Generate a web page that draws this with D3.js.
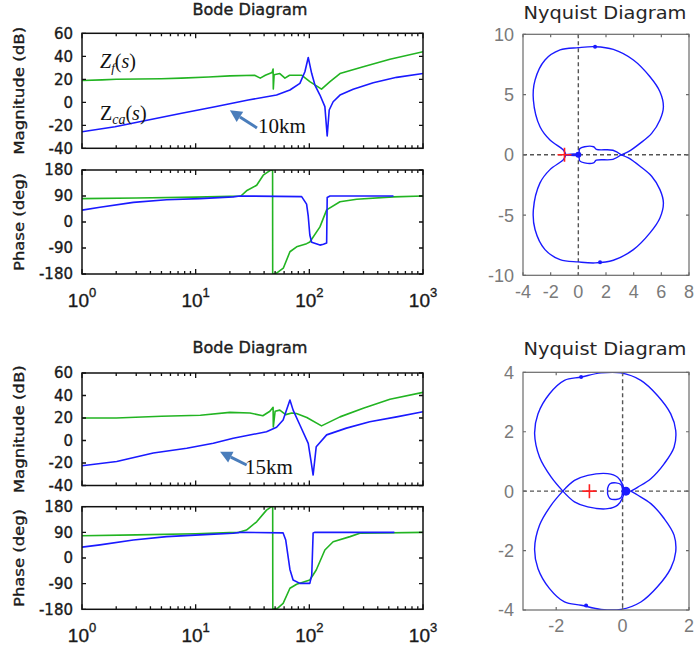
<!DOCTYPE html>
<html>
<head>
<meta charset="utf-8">
<script src="https://cdn.jsdelivr.net/npm/d3@7/dist/d3.min.js"></script>
<style>
  body { margin: 0; background: #fff; }
  svg text { font-family: "DejaVu Sans", Arial, sans-serif; }
  .heavy { stroke: #1a1a1a; stroke-width: 0.35px; }
</style>
</head>
<body>
<svg id="chart" width="699" height="645"></svg>
<script>
// ---- data: [frequency, value] ----
const FREQ_TICKS = [1, 10, 100, 1000];
const MAG_TICKS = [-40, -20, 0, 20, 40, 60];
const PHASE_TICKS = [-180, -90, 0, 90, 180];

// 10 km case
const zf10Mag = [[1,19],[1.5,19.5],[2,20],[5,20.5],[7.5,21],[13,22],[20,23],[33,23.5],[37,21],[41,23.5],[47,26],[48,29],[48.2,11.5],[49,24],[55,25],[61,21],[67,23.5],[86,23.5],[101,18],[128,11.5],[152,18],[186,25],[298,31],[512,37.4],[1000,44]];
const zca10Mag = [[1,-25.6],[1.95,-21.2],[3.83,-15.4],[7.53,-9.6],[14.8,-3.8],[29,2],[51.5,6.3],[67.5,10.7],[82.6,16.5],[91.4,26.6],[97.8,39],[104.8,25.2],[112,15],[124,6.3],[137,-3.8],[143.6,-29.3],[149.6,-6.7],[162,0.5],[186,6.3],[243,11.3],[365,17],[586,21.7],[1000,25]];
const zf10Phase = [[1,81],[3,83],[10,86],[20,89],[25,90],[28,108],[34.4,127],[39.3,162],[45,178],[47.5,180],[47.6,-180],[51.5,-177],[59,-160],[67.5,-103],[77.3,-86],[94.6,-75],[101,-69],[124,-17],[142,42],[186,70],[261,79],[547,87],[1000,90]];
const zca10Phase = [[1,41],[1.44,51],[2.83,68],[5.55,77],[10.9,81],[21.4,87],[24.5,90],[85.6,88],[94.6,62],[97.8,20],[101,-45],[104.8,-70],[124,-80],[133,-77],[142,-73],[143.6,85],[152,90],[550,90]];

// 15 km case
const zf15Mag = [[1,20],[2,20],[5,21.5],[11,22.5],[20,25],[30,24.5],[39,22],[45,26],[48,29.5],[48.2,12],[50,26],[55,27],[62,23],[70,24.5],[77,24],[95,20.5],[128,13],[186,21],[298,28.6],[512,36.6],[1000,42.8]];
const zca15Mag = [[1,-22.4],[2.02,-18.6],[4.24,-11.1],[8.35,-6.9],[14.3,-2.5],[21.4,2],[32.2,5.5],[42,7.8],[51.5,11.7],[58.8,18.2],[67.5,36],[72,27],[82.6,13.8],[97.8,-2.5],[103,-17],[108,-30.7],[115,-5.5],[142,5],[212,11],[340,16.7],[586,21],[1000,25.6]];
const zf15Phase = [[1,78],[3,81],[10,85],[20,89],[24,90],[28,98],[34.4,127],[42,168],[46.5,180],[47.6,180],[47.7,-180],[52.7,-176],[58.8,-159],[67.5,-106],[77.3,-92],[101,-77],[115,-42],[137,28],[162,57],[228,75],[278,87],[1000,90]];
const zca15Phase = [[1,38],[1.44,46],[2.83,63],[5.55,75],[10.9,81],[21.4,87],[24.5,90],[58.8,88],[62,63],[67.5,-40],[72,-77],[82.6,-89],[101,-89],[105,-60],[108,88],[112,90],[560,90]];

// Nyquist curves, upper half [Re, Im]; lower half is the conjugate
const NYQ10_X_TICKS = [-4, -2, 0, 2, 4, 6, 8];
const NYQ10_Y_TICKS = [-10, -5, 0, 5, 10];
const nyq10Lobe = [[-0.9,0],[-1.08,0.4],[-2.05,1.23],[-2.77,2.33],[-3.25,4.55],[-3.13,6.2],[-2.41,7.87],[-1.32,8.7],[0,8.89],[1.21,8.97],[2.53,8.75],[3.98,7.87],[5.18,6.48],[5.9,5.24],[6.15,3.99],[5.9,2.89],[5.3,1.78],[4.46,0.95],[3.62,0.26],[3.1,0]];
const nyq10Inner = [[-0.9,0],[0,0],[0.1,0.5],[0.45,0.67],[1.1,0.67],[1.3,0.45],[2.5,0.38],[3.1,0]];
const nyq10Arrows = [[1.21,8.97],[1.57,-8.92]];

const NYQ15_X_TICKS = [-2, 0, 2];
const NYQ15_Y_TICKS = [-4, -2, 0, 2, 4];
const nyq15Lobe = [[-1.8,0],[-2.15,0.47],[-2.5,1.14],[-2.65,1.93],[-2.55,2.6],[-2.2,3.28],[-1.75,3.73],[-1.25,3.84],[-0.65,3.98],[-0.05,3.98],[0.55,3.73],[1.05,3.22],[1.45,2.6],[1.6,2.04],[1.55,1.48],[1.25,0.92],[0.85,0.42],[0.45,0.13],[0.25,0]];
const nyq15Tear = [[-1.8,0],[-1.45,0.36],[-1.05,0.53],[-0.45,0.59],[-0.15,0.47],[0,0.22],[0.05,0]];
const nyq15Loop = [[0,0.05],[-0.05,0.22],[-0.2,0.28],[-0.38,0.25],[-0.45,0.1],[-0.45,0]];
const nyq15Arrows = [[-1.25,3.84],[-1.1,-3.85]];

const GREEN = '#22b422';
const BLUE = '#1a1aff';
const ARROW = '#4a7dbb';

const svg = d3.select('#chart');
let clipCount = 0;

function clipFor(x0, y0, w, h) {
    const id = 'clip' + (clipCount++);
    svg.append('clipPath').attr('id', id)
        .append('rect').attr('x', x0).attr('y', y0).attr('width', w).attr('height', h);
    return 'url(#' + id + ')';
}

function bodeAxes(x, y, yTicks, showX, xLabelY) {
    const [x0, x1] = x.range();
    const [y1, y0] = y.range();
    const g = svg.append('g');
    g.append('rect')
        .attr('x', x0).attr('y', y0).attr('width', x1 - x0).attr('height', y1 - y0)
        .attr('fill', 'none').attr('stroke', '#111').attr('stroke-width', 1.5);

    // log ticks on top and bottom
    const minors = [];
    [1, 10, 100].forEach(d => { for (let k = 2; k < 10; k++) minors.push(d * k); });
    const xt = minors.map(v => ({v, len: 3})).concat(FREQ_TICKS.map(v => ({v, len: 5})));
    g.selectAll('.xt').data(xt).enter().append('path')
        .attr('d', d => 'M' + x(d.v) + ',' + y1 + 'v' + (-d.len) + 'M' + x(d.v) + ',' + y0 + 'v' + d.len)
        .attr('stroke', '#111').attr('stroke-width', 1.3);

    g.selectAll('.yt').data(yTicks).enter().append('path')
        .attr('d', d => 'M' + x0 + ',' + y(d) + 'h4M' + x1 + ',' + y(d) + 'h-4')
        .attr('stroke', '#111').attr('stroke-width', 1.3);

    g.selectAll('.yl').data(yTicks).enter().append('text')
        .attr('class', 'heavy')
        .attr('x', x0 - 9).attr('y', d => y(d)).attr('dy', '0.36em')
        .attr('text-anchor', 'end').attr('font-size', 15).attr('fill', '#1a1a1a')
        .text(d => d);

    if (showX) {
        const lab = g.selectAll('.xl').data(FREQ_TICKS).enter().append('text')
            .attr('class', 'heavy')
            .attr('x', d => x(d)).attr('y', xLabelY)
            .attr('text-anchor', 'middle').attr('fill', '#1a1a1a')
            .style('font-family', '"Liberation Sans", Arial, sans-serif');
        lab.append('tspan').attr('font-size', 19).text('10');
        lab.append('tspan').attr('font-size', 13).attr('dy', -10).text(d => Math.round(Math.log10(d)));
    }
    return g;
}

function drawLine(data, x, y, color, clip) {
    svg.append('path')
        .datum(data)
        .attr('clip-path', clip)
        .attr('fill', 'none').attr('stroke', color).attr('stroke-width', 1.6)
        .attr('stroke-linejoin', 'round')
        .attr('d', d3.line().x(d => x(d[0])).y(d => y(d[1])));
}

function arrow(tipX, tipY, tailX, tailY) {
    const dx = tipX - tailX, dy = tipY - tailY;
    const L = Math.hypot(dx, dy), ux = dx / L, uy = dy / L;
    const bx = tipX - ux * 12, by = tipY - uy * 12;
    svg.append('line').attr('x1', tailX).attr('y1', tailY).attr('x2', bx).attr('y2', by)
        .attr('stroke', ARROW).attr('stroke-width', 3);
    svg.append('polygon')
        .attr('points', [[tipX, tipY], [bx - uy * 6, by + ux * 6], [bx + uy * 6, by - ux * 6]].map(p => p.join(',')).join(' '))
        .attr('fill', ARROW);
}

function bode(o) {
    const x = d3.scaleLog().domain([1, 1000]).range([82, 423]);
    const yM = d3.scaleLinear().domain([-40, 60]).range([o.magBot, o.magTop]);
    const yP = d3.scaleLinear().domain([-180, 180]).range([o.phBot, o.phTop]);

    svg.append('text').attr('x', 250).attr('y', o.titleY)
        .attr('class', 'heavy')
        .attr('text-anchor', 'middle').attr('font-size', 15).attr('fill', '#222')
        .attr('textLength', 115).attr('lengthAdjust', 'spacingAndGlyphs')
        .text('Bode Diagram');

    const clipM = clipFor(82, o.magTop, 341, o.magBot - o.magTop);
    const clipP = clipFor(82, o.phTop, 341, o.phBot - o.phTop);

    drawLine(o.zfMag, x, yM, GREEN, clipM);
    drawLine(o.zcaMag, x, yM, BLUE, clipM);
    drawLine(o.zfPhase, x, yP, GREEN, clipP);
    drawLine(o.zcaPhase, x, yP, BLUE, clipP);

    bodeAxes(x, yM, MAG_TICKS, false);
    bodeAxes(x, yP, PHASE_TICKS, true, o.xLabelY);

    const magMid = (o.magTop + o.magBot) / 2, phMid = (o.phTop + o.phBot) / 2;
    svg.append('text').attr('transform', 'translate(24,' + magMid + ') rotate(-90)')
        .attr('class', 'heavy')
        .attr('text-anchor', 'middle').attr('font-size', 14).attr('fill', '#1a1a1a')
        .attr('textLength', 128).attr('lengthAdjust', 'spacingAndGlyphs')
        .text('Magnitude (dB)');
    svg.append('text').attr('transform', 'translate(24,' + phMid + ') rotate(-90)')
        .attr('class', 'heavy')
        .attr('text-anchor', 'middle').attr('font-size', 14).attr('fill', '#1a1a1a')
        .attr('textLength', 98).attr('lengthAdjust', 'spacingAndGlyphs')
        .text('Phase (deg)');

    // annotations
    const a = o.note;
    arrow(x(a.tip[0]), yM(a.tip[1]), x(a.tail[0]), yM(a.tail[1]));
    svg.append('text').attr('x', x(a.label[0])).attr('y', yM(a.label[1]))
        .style('font-family', '"Liberation Serif", "Times New Roman", serif')
        .attr('font-size', 21).attr('fill', '#111').text(a.text);

    if (o.names) {
        const serif = '"Liberation Serif", "Times New Roman", serif';
        const t1 = svg.append('text').attr('x', x(o.names.zf[0])).attr('y', yM(o.names.zf[1]))
            .style('font-family', serif).attr('font-size', 20).attr('fill', '#111');
        t1.append('tspan').attr('font-style', 'italic').text('Z');
        t1.append('tspan').attr('font-style', 'italic').attr('font-size', 13).attr('dy', 4).text('f');
        t1.append('tspan').attr('dy', -4).text('(');
        t1.append('tspan').attr('font-style', 'italic').text('s');
        t1.append('tspan').text(')');

        const t2 = svg.append('text').attr('x', x(o.names.zca[0])).attr('y', yM(o.names.zca[1]))
            .style('font-family', serif).attr('font-size', 20).attr('fill', '#111');
        t2.append('tspan').text('Z');
        t2.append('tspan').attr('font-style', 'italic').attr('font-size', 14).attr('dy', 4).text('ca');
        t2.append('tspan').attr('dy', -4).text('(');
        t2.append('tspan').attr('font-style', 'italic').text('s');
        t2.append('tspan').text(')');
    }
}

function nyquist(o) {
    const x = d3.scaleLinear().domain(o.xd).range([523, 689]);
    const y = d3.scaleLinear().domain(o.yd).range([o.bot, o.top]);
    const g = svg.append('g');

    svg.append('text').attr('x', 605).attr('y', o.titleY)
        .attr('text-anchor', 'middle').attr('font-size', 18).attr('fill', '#262626')
        .attr('textLength', 163).attr('lengthAdjust', 'spacingAndGlyphs')
        .text('Nyquist Diagram');

    const clip = clipFor(523, o.top, 166, o.bot - o.top);

    // dashed zero lines
    g.append('line').attr('x1', x(0)).attr('x2', x(0)).attr('y1', o.top).attr('y2', o.bot)
        .attr('stroke', '#555').attr('stroke-width', 1.4).attr('stroke-dasharray', '4,3');
    g.append('line').attr('x1', 523).attr('x2', 689).attr('y1', y(0)).attr('y2', y(0))
        .attr('stroke', '#555').attr('stroke-width', 1.4).attr('stroke-dasharray', '4,3');

    const line = d3.line().x(d => x(d[0])).y(d => y(d[1])).curve(d3.curveCatmullRom.alpha(0.5));
    o.curves.forEach(c => {
        [c, c.map(p => [p[0], -p[1]])].forEach(half => {
            g.append('path').datum(half).attr('clip-path', clip)
                .attr('fill', 'none').attr('stroke', BLUE).attr('stroke-width', 1.4)
                .attr('stroke-linejoin', 'round').attr('d', line);
        });
    });

    // direction markers and origin dot
    g.selectAll('.mk').data(o.arrows).enter().append('circle')
        .attr('cx', d => x(d[0])).attr('cy', d => y(d[1])).attr('r', 2).attr('fill', BLUE);
    g.append('circle').attr('cx', x(o.dot[0])).attr('cy', y(o.dot[1])).attr('r', o.dotR).attr('fill', BLUE);

    // critical point
    g.append('path')
        .attr('d', 'M' + (x(-1) - 7) + ',' + y(0) + 'h14M' + x(-1) + ',' + (y(0) - 7) + 'v14')
        .attr('stroke', '#ff2020').attr('stroke-width', 1.6);

    g.append('rect').attr('x', 523).attr('y', o.top).attr('width', 166).attr('height', o.bot - o.top)
        .attr('fill', 'none').attr('stroke', '#6a6a6a').attr('stroke-width', 1.2);

    g.selectAll('.xt').data(o.xt).enter().append('path')
        .attr('d', d => 'M' + x(d) + ',' + o.bot + 'v-3M' + x(d) + ',' + o.top + 'v3')
        .attr('stroke', '#6a6a6a').attr('stroke-width', 1.2);
    g.selectAll('.yt').data(o.yt).enter().append('path')
        .attr('d', d => 'M523,' + y(d) + 'h3M689,' + y(d) + 'h-3')
        .attr('stroke', '#6a6a6a').attr('stroke-width', 1.2);

    g.selectAll('.xl').data(o.xt).enter().append('text')
        .attr('x', d => x(d)).attr('y', o.xLabelY).attr('text-anchor', 'middle')
        .attr('font-size', 18).attr('fill', '#7a7a7a')
        .style('font-family', '"Liberation Sans", Arial, sans-serif')
        .text(d => d);
    g.selectAll('.yl').data(o.yt).enter().append('text')
        .attr('x', 514).attr('y', d => y(d)).attr('dy', '0.36em').attr('text-anchor', 'end')
        .attr('font-size', 18).attr('fill', '#7a7a7a')
        .style('font-family', '"Liberation Sans", Arial, sans-serif')
        .text(d => d);
}

bode({
    titleY: 15, magTop: 33.3, magBot: 148.3, phTop: 170, phBot: 274, xLabelY: 307,
    zfMag: zf10Mag, zcaMag: zca10Mag, zfPhase: zf10Phase, zcaPhase: zca10Phase,
    note: {tip: [20, -7], tail: [34.6, -22.3], label: [35.3, -26.5], text: '10km'},
    names: {zf: [1.44, 29.8], zca: [1.44, -15.5]}
});
bode({
    titleY: 353, magTop: 373, magBot: 485.5, phTop: 506.7, phBot: 609.3, xLabelY: 642,
    zfMag: zf15Mag, zcaMag: zca15Mag, zfPhase: zf15Phase, zcaPhase: zca15Phase,
    note: {tip: [16.4, -10], tail: [28.1, -21.8], label: [27.2, -29.6], text: '15km'}
});

nyquist({
    titleY: 19, top: 34.3, bot: 275.3, xd: [-4, 8], yd: [-10, 10], xLabelY: 298,
    xt: NYQ10_X_TICKS, yt: NYQ10_Y_TICKS,
    curves: [nyq10Lobe, nyq10Inner], arrows: nyq10Arrows, dot: [0, 0], dotR: 3
});
nyquist({
    titleY: 355, top: 372.3, bot: 610, xd: [-3, 2], yd: [-4, 4], xLabelY: 632,
    xt: NYQ15_X_TICKS, yt: NYQ15_Y_TICKS,
    curves: [nyq15Lobe, nyq15Tear, nyq15Loop], arrows: nyq15Arrows, dot: [0.1, 0], dotR: 4.5
});
</script>
</body>
</html>
